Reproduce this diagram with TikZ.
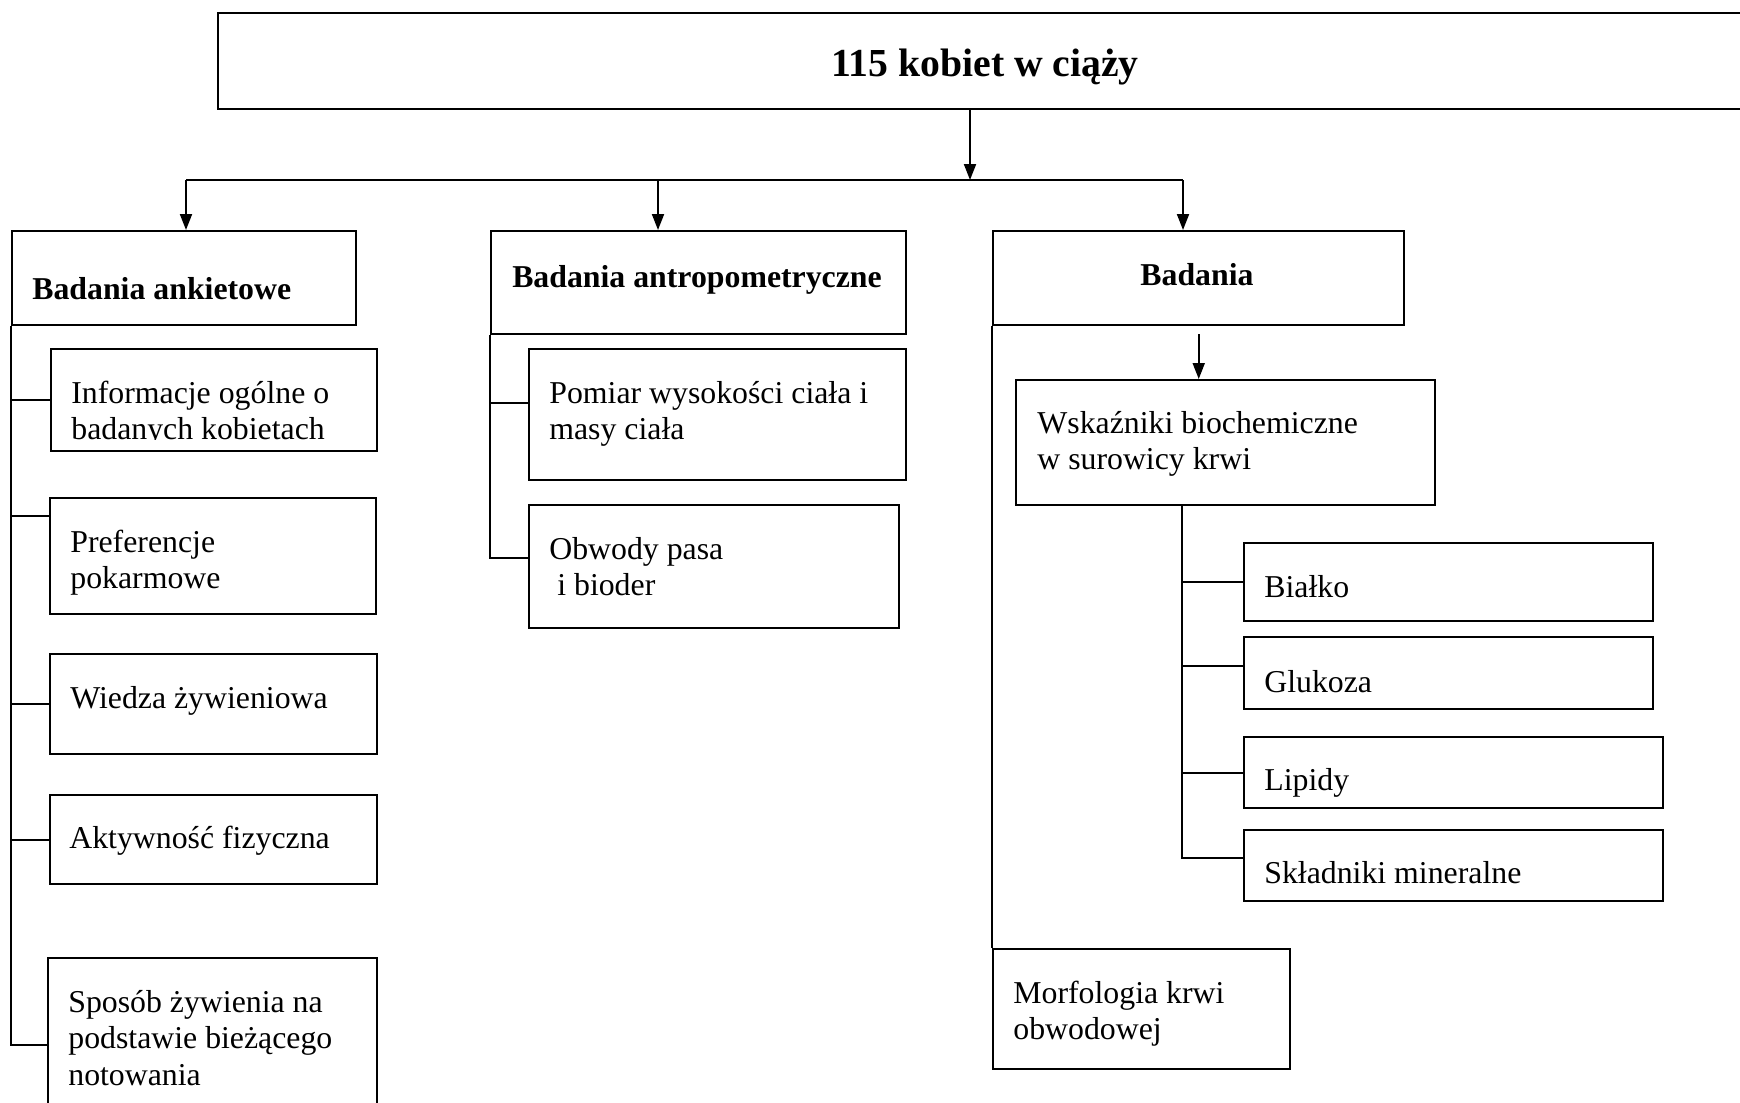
\documentclass[tikz,border=0pt]{standalone}
\usepackage{fontspec}
\setmainfont{Liberation Serif}
\usetikzlibrary{arrows.meta}
\newcommand{\wiersze}[1]{\begin{tabular}[t]{@{}l@{}}#1\end{tabular}}

\begin{document}
\begin{tikzpicture}[x=0.02cm,y=-0.02cm,
    ramka/.style 2 args={draw,line width=1.4pt,anchor=north west,inner sep=0pt,
      minimum width=#1*0.02cm,minimum height=#2*0.02cm},
    opis/.style={anchor=base west,inner sep=0pt,font=\fontsize{18.1}{20.8}\selectfont},
    naglowek/.style={anchor=base,inner sep=0pt,font=\fontsize{18.1}{20.8}\selectfont\bfseries},
    linia/.style={line width=1.1pt},
    strz/.style={line width=1.1pt,-{Triangle[length=0.32cm,width=0.24cm]}}]
    \useasboundingbox (0,0) rectangle (1740,1102);

    \node[ramka={1535}{96}] (top) at (217,12) {};
    \node[naglowek,font=\fontsize{22.6}{26}\selectfont\bfseries] (top-t) at (985,76) {115 kobiet w ciąży};

    \node[ramka={344}{94}] (ank) at (11,230) {};
    \node[opis,font=\fontsize{18.1}{20.8}\selectfont\bfseries] (ank-t) at (32,299) {Badania ankietowe};
    \node[ramka={415}{103}] (ant) at (490,230) {};
    \node[naglowek] (ant-t) at (697,287) {Badania antropometryczne};
    \node[ramka={411}{94}] (bad) at (992,230) {};
    \node[naglowek] (bad-t) at (1197,285) {Badania};

    \node[ramka={326}{102}] (inf) at (50,348) {};
    \begin{scope}
      \clip (50,348) rectangle (376,439);
      \node[opis] (inf-t) at (71,403) {\wiersze{Informacje ogólne o\\badanych kobietach}};
    \end{scope}
    \node[ramka={326}{116}] (pre) at (49,497) {};
    \node[opis] (pre-t) at (70,552) {\wiersze{Preferencje\\pokarmowe}};
    \node[ramka={327}{100}] (wie) at (49,653) {};
    \node[opis] (wie-t) at (70,708) {Wiedza żywieniowa};
    \node[ramka={327}{89}] (akt) at (49,794) {};
    \node[opis] (akt-t) at (69,848) {Aktywność fizyczna};
    \node[ramka={329}{160}] (spo) at (47,957) {};
    \node[opis] (spo-t) at (68,1012) {\wiersze{Sposób żywienia na\\podstawie bieżącego\\notowania}};

    \node[ramka={377}{131}] (pom) at (528,348) {};
    \node[opis] (pom-t) at (549,403) {\wiersze{Pomiar wysokości ciała i\\masy ciała}};
    \node[ramka={370}{123}] (obw) at (528,504) {};
    \node[opis] (obw-t) at (549,559) {\wiersze{Obwody pasa\\\ i bioder}};

    \node[ramka={419}{125}] (wsk) at (1015,379) {};
    \node[opis] (wsk-t) at (1037,433) {\wiersze{Wskaźniki biochemiczne\\w surowicy krwi}};
    \node[ramka={409}{78}] (bia) at (1243,542) {};
    \node[opis] (bia-t) at (1264,597) {Białko};
    \node[ramka={409}{72}] (glu) at (1243,636) {};
    \node[opis] (glu-t) at (1264,692) {Glukoza};
    \node[ramka={419}{71}] (lip) at (1243,736) {};
    \node[opis] (lip-t) at (1264,790) {Lipidy};
    \node[ramka={419}{71}] (skl) at (1243,829) {};
    \node[opis] (skl-t) at (1264,883) {Składniki mineralne};
    \node[ramka={297}{120}] (mor) at (992,948) {};
    \node[opis] (mor-t) at (1013,1003) {\wiersze{Morfologia krwi\\obwodowej}};

    \coordinate (rozg) at (970,180);
    \coordinate (hl) at (186,180);
    \coordinate (hm) at (658,180);
    \coordinate (hr) at (1183,180);
    \draw[strz] (rozg |- top.south) -- (rozg);
    \draw[linia] (hl) -- (hr);
    \draw[strz] (hl) -- (hl |- ank.north);
    \draw[strz] (hm) -- (hm |- ant.north);
    \draw[strz] (hr) -- (hr |- bad.north);

    \coordinate (ankdol) at (11,1045);
    \draw[linia] (ank.south west) -- (ankdol) -- (ankdol -| spo.west);
    \draw[linia] (ank.south west |- inf.west) -- (inf.west);
    \draw[linia] (pre.north west) ++(0,19) -- ++(-38,0);
    \draw[linia] (ank.south west |- wie.west) -- (wie.west);
    \draw[linia] (ank.south west |- akt.west) -- (akt.west);

    \coordinate (antdol) at (490,558);
    \draw[linia] (ant.south west) -- (antdol) -- (antdol -| obw.west);
    \draw[linia] (pom.north west) ++(0,55) -- ++(-38,0);

    \draw[linia] (bad.south west) -- (mor.north west);
    \draw[strz] ([yshift=-0.16cm]bad.south) -- (bad.south |- wsk.north);
    \coordinate (wskdol) at (1182,858);
    \draw[linia] (wskdol |- wsk.south) -- (wskdol) -- (wskdol -| skl.west);
    \draw[linia] (wskdol |- bia.west) -- (bia.west);
    \draw[linia] (bia.north west) ++(0,124) -- ++(-61,0);
    \draw[linia] (wskdol |- lip.west) -- (lip.west);
\end{tikzpicture}
\end{document}
